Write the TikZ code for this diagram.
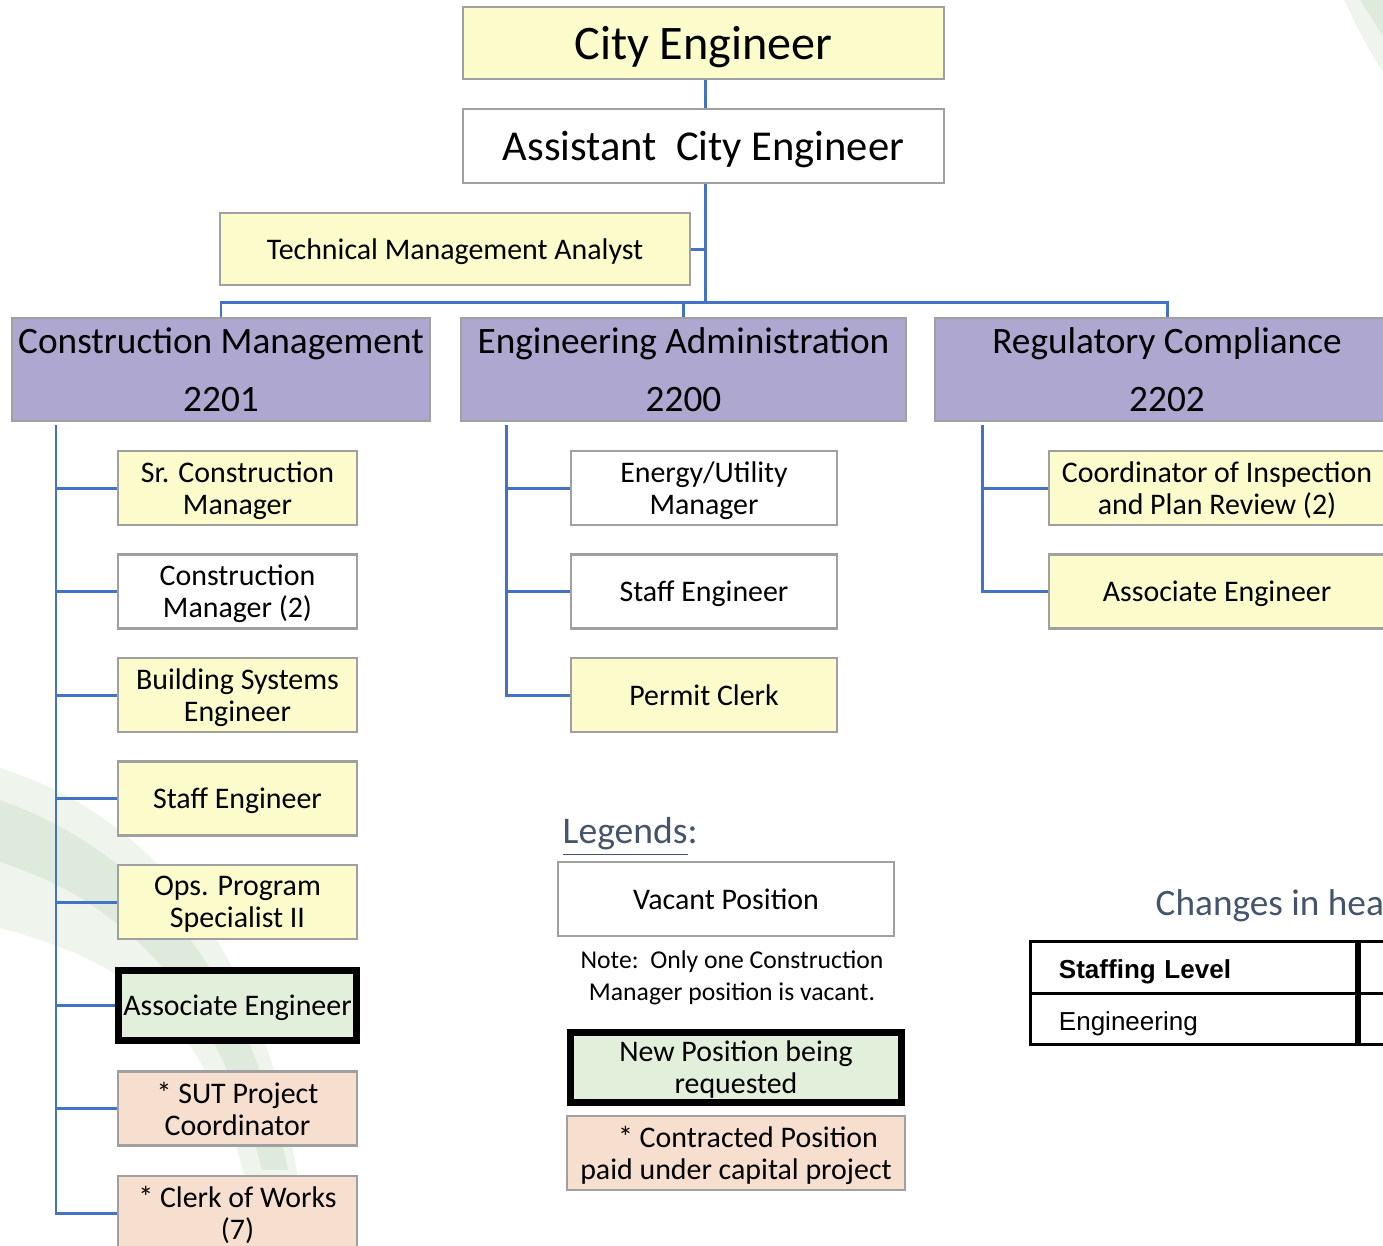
\documentclass[tikz,border=0pt]{standalone}
\usepackage{fontspec}
\setmainfont{Carlito}
\newfontfamily\arialfont{Liberation Sans}
\usepackage{xcolor}
\usepackage{tikz}
\usetikzlibrary{positioning, calc}

\definecolor{boxyellow}{RGB}{251,251,203}
\definecolor{boxpurple}{RGB}{174,167,207}
\definecolor{boxgreen}{RGB}{226,239,218}
\definecolor{boxpeach}{RGB}{247,223,208}
\definecolor{boxgray}{RGB}{160,160,160}
\definecolor{linkblue}{RGB}{68,114,196}
\definecolor{titleblue}{RGB}{68,84,106}
\definecolor{swoosh}{RGB}{190,215,185}

\begin{document}
\begin{tikzpicture}[
            x=0.01cm, y=-0.01cm,
            box/.style={draw=boxgray, line width=0.6pt, align=center, inner sep=0pt, text depth=0pt,
                        font=\fontsize{8.5}{9.1}\selectfont, minimum height=0.74cm},
            post/.style={box, fill=boxyellow},
            vacant/.style={box, fill=white},
            newpost/.style={box, fill=boxgreen, draw=black, line width=2pt, minimum height=0.70cm},
            contract/.style={box, fill=boxpeach},
            chief/.style={box, fill=boxyellow, minimum width=4.81cm, minimum height=0.72cm,
                          font=\fontsize{13.7}{15}\selectfont},
            deputy/.style={box, fill=white, minimum width=4.81cm, minimum height=0.74cm,
                           font=\fontsize{12.1}{14}\selectfont},
            unit/.style={box, fill=boxpurple, minimum height=1.03cm,
                         font=\fontsize{10.6}{16.5}\selectfont},
            link/.style={draw=linkblue, line width=0.85pt},
            cell/.style={draw=black, line width=0.85pt, inner xsep=0.28cm, inner ysep=0pt,
                         text height=6.7pt, text depth=0pt,
                         text width=2.69cm, align=left, font=\arialfont\fontsize{7.4}{9}\selectfont}
        ]

        \useasboundingbox (0,0) rectangle (1383,1245);
        \clip (0,0) rectangle (1383,1245);

        % Background swooshes
        \fill[swoosh, opacity=0.25] (0,768) .. controls (150,815) and (265,950) .. (298,1180)
            -- (245,1180) .. controls (205,1010) and (120,960) .. (0,928) -- cycle;
        \fill[swoosh, opacity=0.35] (0,800) .. controls (140,850) and (245,965) .. (288,1170)
            -- (262,1170) .. controls (215,990) and (120,900) .. (0,862) -- cycle;
        \fill[swoosh, opacity=0.25] (1344,0) .. controls (1356,25) and (1368,50) .. (1383,72) -- (1383,0) -- cycle;
        \fill[swoosh, opacity=0.35] (1360,0) .. controls (1368,12) and (1375,24) .. (1383,36) -- (1383,0) -- cycle;

        % Nodes (manual layout to match figure)
        \node[chief] (CE) at (703.5,43) {City Engineer};
        \node[deputy] (ACE) at (703.5,146) {Assistant\ \ City Engineer};
        \node[post, minimum width=4.70cm, minimum height=0.72cm] (TMA) at (455,249) {Technical Management Analyst};

        \node[unit, minimum width=4.18cm] (CM) at (221,369.5) {Construction Management\\2201};
        \node[unit, minimum width=4.45cm] (EA) at (683.5,369.5) {Engineering Administration\\2200};
        \node[unit, minimum width=4.64cm] (RC) at (1167,369.5) {Regulatory Compliance\\2202};

        % Construction Management
        \node[post, minimum width=2.39cm] (CM1) at (237.5,488) {Sr. Construction\\Manager};
        \node[vacant, minimum width=2.39cm] (CM2) at (237.5,591.5) {Construction\\Manager (2)};
        \node[post, minimum width=2.39cm] (CM3) at (237.5,695) {Building Systems\\Engineer};
        \node[post, minimum width=2.39cm] (CM4) at (237.5,798.5) {Staff Engineer};
        \node[post, minimum width=2.39cm] (CM5) at (237.5,902) {Ops. Program\\Specialist II};
        \node[newpost, minimum width=2.38cm] (CM6) at (237.5,1005.5) {Associate Engineer};
        \node[contract, minimum width=2.39cm] (CM7) at (237.5,1108.5) {* SUT Project\\Coordinator};
        \node[contract, minimum width=2.39cm] (CM8) at (237.5,1213) {* Clerk of Works\\(7)};

        % Engineering Administration
        \node[vacant, minimum width=2.66cm] (EA1) at (704,488) {Energy/Utility\\Manager};
        \node[vacant, minimum width=2.66cm] (EA2) at (704,591.5) {Staff Engineer};
        \node[post, minimum width=2.66cm] (EA3) at (704,695) {Permit Clerk};

        % Regulatory Compliance
        \node[post, minimum width=3.36cm] (RC1) at (1217,488) {Coordinator of Inspection\\and Plan Review (2)};
        \node[post, minimum width=3.36cm] (RC2) at (1217,591.5) {Associate Engineer};

        % Legends
        \node[anchor=base west, inner sep=0pt, text=titleblue, font=\fontsize{10.7}{12}\selectfont] (LEG) at (562,843) {\underline{Legends}:};
        \node[vacant, minimum width=3.36cm] (VAC) at (726,899) {Vacant Position};
        \node[align=center, inner sep=0pt, font=\fontsize{7.3}{9.1}\selectfont] (NOTE) at (732,978) {Note:\ \ Only one Construction\\Manager position is vacant.};
        \node[newpost, minimum width=3.31cm] (NEW) at (736,1067.5) {New Position being\\requested};
        \node[contract, minimum width=3.38cm] (CON) at (736,1153) {\hspace*{0.24cm}* Contracted Position\\paid under capital project};

        % Headcount table
        \node[anchor=base west, inner sep=0pt, text=titleblue, font=\fontsize{10.6}{12}\selectfont] (CHG) at (1155,915) {Changes in hea};
        \node[cell, minimum height=0.52cm] (T1) at (1193.5,967) {\bfseries Staffing Level};
        \node[cell, minimum height=0.51cm] (T2) at (1193.5,1018.5) {Engineering};
        \node[cell, minimum height=0.52cm, anchor=west] (T3) at (T1.east) {};
        \node[cell, minimum height=0.51cm, anchor=west] (T4) at (T2.east) {};

        % Edges
        \coordinate (hub) at (705,302);
        \coordinate (CMs) at (56,425);
        \coordinate (EAs) at (506,425);
        \coordinate (RCs) at (982,425);

        \draw[link] (CE.south -| hub) -- (ACE.north -| hub);
        \draw[link] (ACE.south -| hub) -- (hub);
        \draw[link] (TMA.east) -- (TMA.east -| hub);
        \draw[link] (CM.north) -- (CM.north |- hub) -- (RC.north |- hub) -- (RC.north);
        \draw[link] (EA.north) -- (EA.north |- hub);

        \draw[link] (CMs) |- (CM8.west);
        \draw[link] (CMs |- CM1.west) -- (CM1.west);
        \draw[link] (CMs |- CM2.west) -- (CM2.west);
        \draw[link] (CMs |- CM3.west) -- (CM3.west);
        \draw[link] (CMs |- CM4.west) -- (CM4.west);
        \draw[link] (CMs |- CM5.west) -- (CM5.west);
        \draw[link] (CMs |- CM6.west) -- (CM6.west);
        \draw[link] (CMs |- CM7.west) -- (CM7.west);

        \draw[link] (EAs) |- (EA3.west);
        \draw[link] (EAs |- EA1.west) -- (EA1.west);
        \draw[link] (EAs |- EA2.west) -- (EA2.west);

        \draw[link] (RCs) |- (RC2.west);
        \draw[link] (RCs |- RC1.west) -- (RC1.west);

    \end{tikzpicture}
\end{document}
